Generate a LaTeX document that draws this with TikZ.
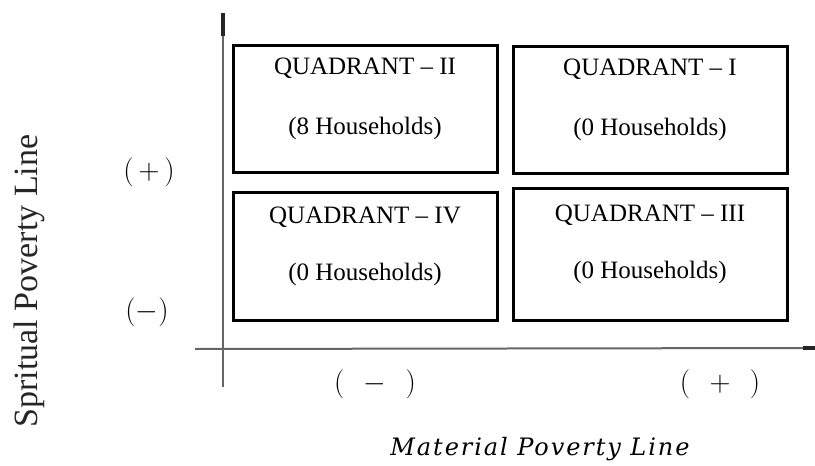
\documentclass[tikz,border=0pt]{standalone}
\usepackage{graphicx}
\usepackage{fontspec}
\newfontfamily\tnr{Liberation Serif}
\newfontfamily\mplfont[LetterSpace=8]{DejaVu Serif}
\newcommand\bigsign[1]{\scalebox{1.4}{\huge$#1$}}
\begin{document}
\begin{tikzpicture}[x=1pt,y=-1pt,
  quad/.style={draw=black,line width=3pt,rectangle,inner sep=0pt},
  qtext/.style={anchor=base,inner sep=0pt,text=black,font=\tnr\fontsize{25}{30}\selectfont},
  axis/.style={draw=black!60,line width=2pt},
  axtip/.style={draw=black!85,line width=4pt},
  sign/.style={inner sep=0pt}
]
\useasboundingbox (0,0) rectangle (815,466);
% axes
\coordinate (vtop) at (223,13);
\coordinate (vtip) at (223,36);
\coordinate (vbot) at (223,387);
\coordinate (hleft) at (195,349);
\coordinate (hright) at (815,348);
\coordinate (htip) at (803,348);
\draw[axis] (vbot) -- (vtop);
\draw[axtip] (vtip) -- (vtop);
\draw[axis] (hleft) -- (hright);
\draw[axtip] (htip) -- (hright);
% quadrant boxes
\node[quad,minimum width=264pt,minimum height=127pt] (q2) at (365,108.5) {};
\node[quad,minimum width=274pt,minimum height=127pt] (q1) at (650,109.5) {};
\node[quad,minimum width=264pt,minimum height=128pt] (q4) at (365,256) {};
\node[quad,minimum width=274pt,minimum height=132pt] (q3) at (650,254) {};
% texts
\node[qtext] (t2) at ([yshift=-31pt]q2.north) {QUADRANT \textendash{} II};
\node[qtext] (h2) at ([yshift=-91pt]q2.north) {(8 Households)};
\node[qtext] (t1) at ([yshift=-31pt]q1.north) {QUADRANT \textendash{} I};
\node[qtext] (h1) at ([yshift=-91pt]q1.north) {(0 Households)};
\node[qtext] (t4) at ([yshift=-33pt]q4.north) {QUADRANT \textendash{} IV};
\node[qtext] (h4) at ([yshift=-90pt]q4.north) {(0 Households)};
\node[qtext] (t3) at ([yshift=-35pt]q3.north) {QUADRANT \textendash{} III};
\node[qtext] (h3) at ([yshift=-92pt]q3.north) {(0 Households)};
% axis labels
\node[anchor=base,rotate=90,inner sep=0pt,text=black!85,font=\tnr\fontsize{34}{40}\selectfont] (ylab) at (37,281) {Spritual Poverty Line};
\node[sign] (yplus) at (149,172) {\bigsign{(\,+\,)}};
\node[sign] (yminus) at (147,312) {\bigsign{(-)}};
\node[sign] (xminus) at (375,384) {\bigsign{(\quad\!\!-\quad\!\!)}};
\node[sign] (xplus) at (720,384) {\bigsign{(\quad\!\!+\quad\!\!)}};
\node[anchor=base,inner sep=0pt,font=\mplfont\itshape\fontsize{24}{28}\selectfont] (xlab) at (540,455) {Material Poverty Line};
\end{tikzpicture}
\end{document}
